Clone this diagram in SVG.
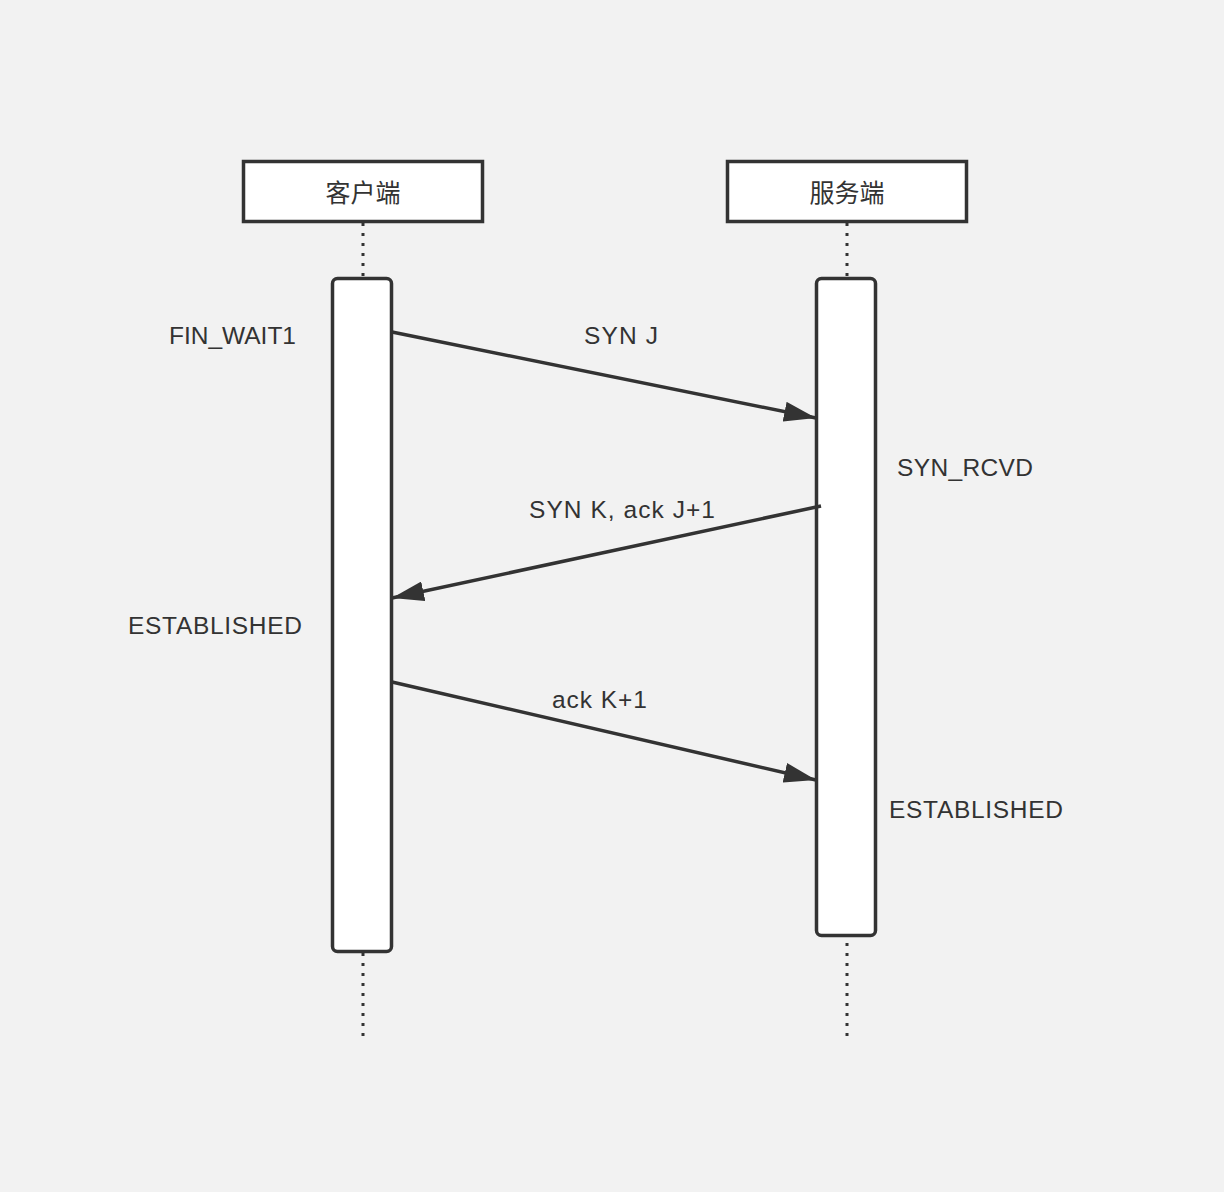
<svg xmlns="http://www.w3.org/2000/svg" width="1224" height="1192" viewBox="0 0 1224 1192">
<style>
.hdr{fill:#fff;stroke:#333;stroke-width:3.5}
.act{fill:#fff;stroke:#333;stroke-width:3.5}
.life{stroke:#333;stroke-width:3;stroke-dasharray:3 7;fill:none}
.msg{stroke:#333;stroke-width:3.5;fill:none}
.t{font-family:"Liberation Sans","Noto Sans",Arial,sans-serif;font-size:24.5px;fill:#333}
.c{font-family:"Noto Sans CJK SC","Noto Sans",sans-serif;font-size:25px;fill:#333}
</style>
<defs>
<marker id="ah" viewBox="0 0 32 20" refX="32" refY="10" markerWidth="32" markerHeight="20" markerUnits="userSpaceOnUse" orient="auto">
<path d="M0,0 L32,10 L0,20 Z" fill="#333"/>
</marker>
</defs>
<rect width="1224" height="1192" fill="#f2f2f2"/>
<g id="lifelines">
<line class="life" x1="363" y1="223" x2="363" y2="1036"/>
<line class="life" x1="847" y1="223" x2="847" y2="1036"/>
</g>
<g id="client">
<rect class="hdr" x="243.5" y="161.5" width="239" height="60"/>
<text class="c" x="363" y="202" text-anchor="middle">客户端</text>
</g>
<g id="server">
<rect class="hdr" x="727.5" y="161.5" width="239" height="60"/>
<text class="c" x="847" y="202" text-anchor="middle">服务端</text>
</g>
<g id="client-activation">
<rect class="act" x="332.5" y="278.5" width="59" height="673" rx="5"/>
</g>
<g id="server-activation">
<rect class="act" x="816.5" y="278.5" width="59" height="657" rx="5"/>
</g>
<g id="connectors">
<line class="msg" x1="392" y1="332" x2="816" y2="418" marker-end="url(#ah)"/>
<line class="msg" x1="821" y1="506" x2="392" y2="598" marker-end="url(#ah)"/>
<line class="msg" x1="392" y1="682" x2="816" y2="780" marker-end="url(#ah)"/>
</g>
<g id="labels">
<text class="t" x="169" y="344" textLength="127" lengthAdjust="spacing">FIN_WAIT1</text>
<text class="t" x="584" y="344" textLength="74" lengthAdjust="spacing">SYN J</text>
<text class="t" x="897" y="476" textLength="136" lengthAdjust="spacing">SYN_RCVD</text>
<text class="t" x="529" y="518" textLength="186" lengthAdjust="spacing">SYN K, ack J+1</text>
<text class="t" x="128" y="634" textLength="174" lengthAdjust="spacing">ESTABLISHED</text>
<text class="t" x="552" y="708" textLength="95" lengthAdjust="spacing">ack K+1</text>
<text class="t" x="889" y="818" textLength="174" lengthAdjust="spacing">ESTABLISHED</text>
</g>
</svg>
